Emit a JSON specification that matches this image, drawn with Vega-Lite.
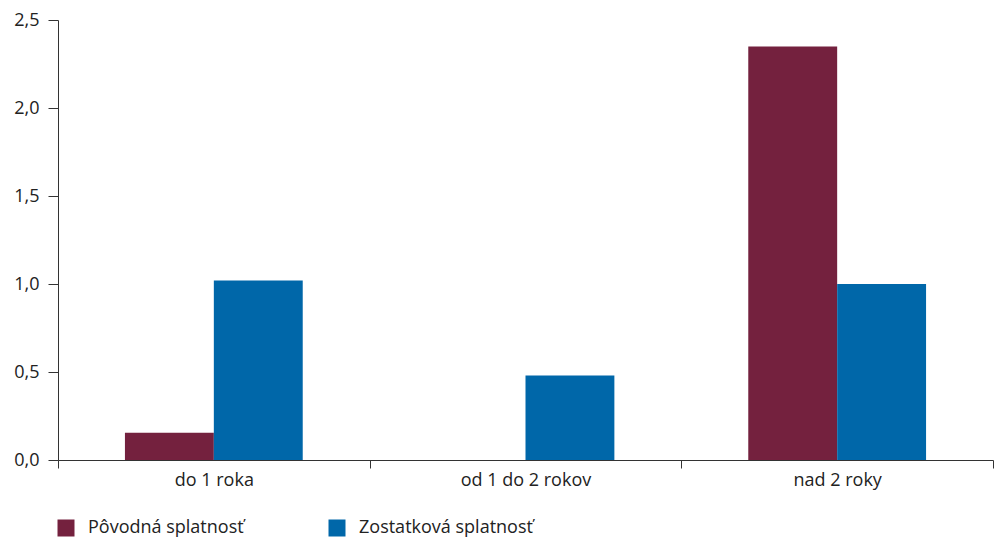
{
  "$schema": "https://vega.github.io/schema/vega-lite/v6.json",
  "width": 935,
  "height": 440,
  "autosize": {"type": "none"},
  "padding": {"left": 58, "top": 20, "right": 2, "bottom": 77},
  "background": "white",
  "data": {
    "values": [
      {"kategoria": "do 1 roka", "seria": "Pôvodná splatnosť", "hodnota": 0.155},
      {"kategoria": "do 1 roka", "seria": "Zostatková splatnosť", "hodnota": 1.02},
      {"kategoria": "od 1 do 2 rokov", "seria": "Pôvodná splatnosť", "hodnota": 0},
      {"kategoria": "od 1 do 2 rokov", "seria": "Zostatková splatnosť", "hodnota": 0.48},
      {"kategoria": "nad 2 roky", "seria": "Pôvodná splatnosť", "hodnota": 2.35},
      {"kategoria": "nad 2 roky", "seria": "Zostatková splatnosť", "hodnota": 1.0}
    ]
  },
  "mark": {"type": "bar"},
  "encoding": {
    "x": {
      "field": "kategoria",
      "type": "nominal",
      "sort": ["do 1 roka", "od 1 do 2 rokov", "nad 2 roky"],
      "scale": {"paddingInner": 0, "paddingOuter": 0},
      "axis": {
        "title": null,
        "labelAngle": 0,
        "tickBand": "extent",
        "tickSize": 8,
        "labelPadding": 3,
        "labelFontSize": 18,
        "labelFont": "Open Sans",
        "labelColor": "#222222",
        "domainColor": "#333333",
        "tickColor": "#333333",
        "grid": false
      }
    },
    "xOffset": {
      "field": "seria",
      "type": "nominal",
      "sort": ["Pôvodná splatnosť", "Zostatková splatnosť"],
      "scale": {"paddingInner": 0, "paddingOuter": 0.753}
    },
    "y": {
      "field": "hodnota",
      "type": "quantitative",
      "scale": {"domain": [0, 2.5], "nice": false},
      "axis": {
        "title": null,
        "values": [0, 0.5, 1, 1.5, 2, 2.5],
        "labelExpr": "replace(format(datum.value, '.1f'), '.', ',')",
        "tickSize": 10,
        "labelPadding": 9,
        "labelFontSize": 18,
        "labelFont": "Open Sans",
        "labelColor": "#222222",
        "domainColor": "#333333",
        "tickColor": "#333333",
        "grid": false
      }
    },
    "color": {
      "field": "seria",
      "type": "nominal",
      "sort": ["Pôvodná splatnosť", "Zostatková splatnosť"],
      "scale": {"range": ["#74213e", "#0067a9"]},
      "legend": {
        "title": null,
        "orient": "none",
        "legendX": -1,
        "legendY": 499,
        "direction": "horizontal",
        "columns": 2,
        "columnPadding": 84,
        "symbolType": "square",
        "symbolSize": 289,
        "symbolStrokeWidth": 0,
        "labelFontSize": 18,
        "labelFont": "Open Sans",
        "labelColor": "#222222",
        "labelOffset": 13,
        "labelLimit": 400
      }
    }
  },
  "config": {
    "view": {"stroke": null}
  }
}
